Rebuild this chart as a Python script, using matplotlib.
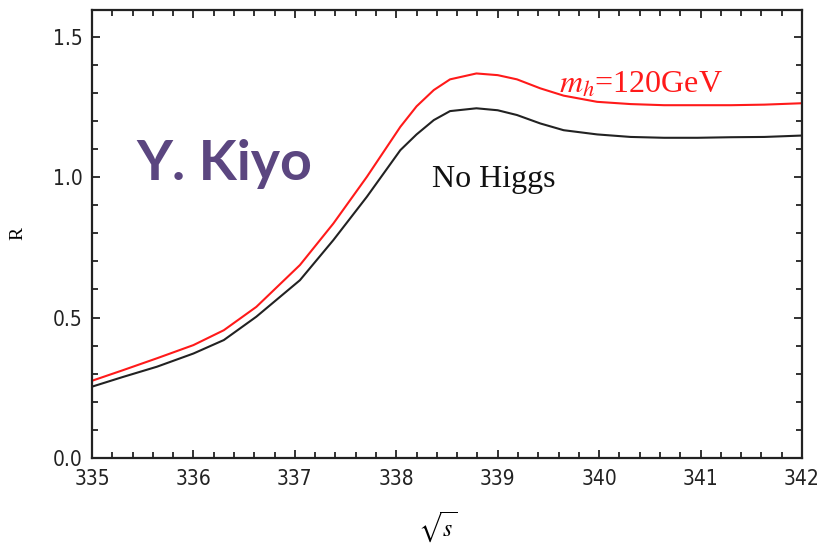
import matplotlib
matplotlib.use("Agg")
import matplotlib.pyplot as plt
from matplotlib.ticker import MultipleLocator

# --- DATA ---
sqrt_s = [335.0, 335.3, 335.64, 336.0, 336.3, 336.62, 337.05, 337.38, 337.71,
          338.04, 338.2, 338.37, 338.53, 338.79, 339.0, 339.19, 339.42, 339.65,
          339.98, 340.31, 340.64, 340.97, 341.3, 341.63, 342.0]
r_higgs = [0.275, 0.312, 0.355, 0.402, 0.455, 0.538, 0.687, 0.835, 1.001,
           1.179, 1.252, 1.31, 1.348, 1.369, 1.363, 1.348, 1.316, 1.29,
           1.268, 1.26, 1.256, 1.256, 1.256, 1.258, 1.263]
r_nohiggs = [0.254, 0.288, 0.325, 0.372, 0.42, 0.503, 0.633, 0.776, 0.93,
             1.096, 1.152, 1.203, 1.235, 1.245, 1.238, 1.221, 1.191, 1.167,
             1.152, 1.143, 1.14, 1.14, 1.142, 1.143, 1.148]

x_ticks = [335, 336, 337, 338, 339, 340, 341, 342]
y_ticks = [0.0, 0.5, 1.0, 1.5]

plt.rcParams['mathtext.fontset'] = 'stix'

fig = plt.figure(figsize=(8.31, 5.48), dpi=100)
ax = fig.add_axes([0.1107, 0.1642, 0.8544, 0.8176])

ax.plot(sqrt_s, r_nohiggs, color='#222222', lw=1.5)
ax.plot(sqrt_s, r_higgs, color='#ff1a1a', lw=1.5)

ax.set_xlim(335, 342)
ax.set_ylim(0, 1.595)
ax.set_xticks(x_ticks)
ax.set_yticks(y_ticks)
ax.set_xticklabels([str(t) for t in x_ticks])
ax.set_yticklabels([f"{t:.1f}" for t in y_ticks])
ax.xaxis.set_minor_locator(MultipleLocator(0.2))
ax.yaxis.set_minor_locator(MultipleLocator(0.1))

ax.tick_params(which='both', direction='in', top=True, right=True, width=1.3, color='#222222')
ax.tick_params(which='major', length=6, labelsize=15)
ax.tick_params(axis='x', which='major', pad=8)
ax.tick_params(axis='y', which='major', pad=7)
ax.tick_params(which='minor', length=4)
for lab in ax.get_xticklabels() + ax.get_yticklabels():
    lab.set_family('DejaVu Sans')
    lab.set_stretch('condensed')
    lab.set_color('#222222')
for sp in ax.spines.values():
    sp.set_linewidth(1.6)
    sp.set_color('#222222')

ax.set_ylabel('R', family='Liberation Serif', fontsize=14)
ax.yaxis.set_label_coords(-0.092, 0.5)
ax.set_xlabel(r'$\sqrt{s}$', fontsize=17)
ax.xaxis.set_label_coords(0.486, -0.115)

ax.text(338.35, 0.964, 'No Higgs', family='Liberation Serif', fontsize=23,
        color='#111111', ha='left', va='baseline')
ax.text(339.6, 1.30, r'$m_h$=120GeV', family='Liberation Serif', fontsize=23,
        color='#ff1a1a', ha='left', va='baseline')
ax.text(335.44, 0.989, 'Y. Kiyo', family='Lato', fontweight='bold', fontsize=40,
        color='#5b4680', ha='left', va='baseline')

fig.savefig('out.png', dpi=100)
